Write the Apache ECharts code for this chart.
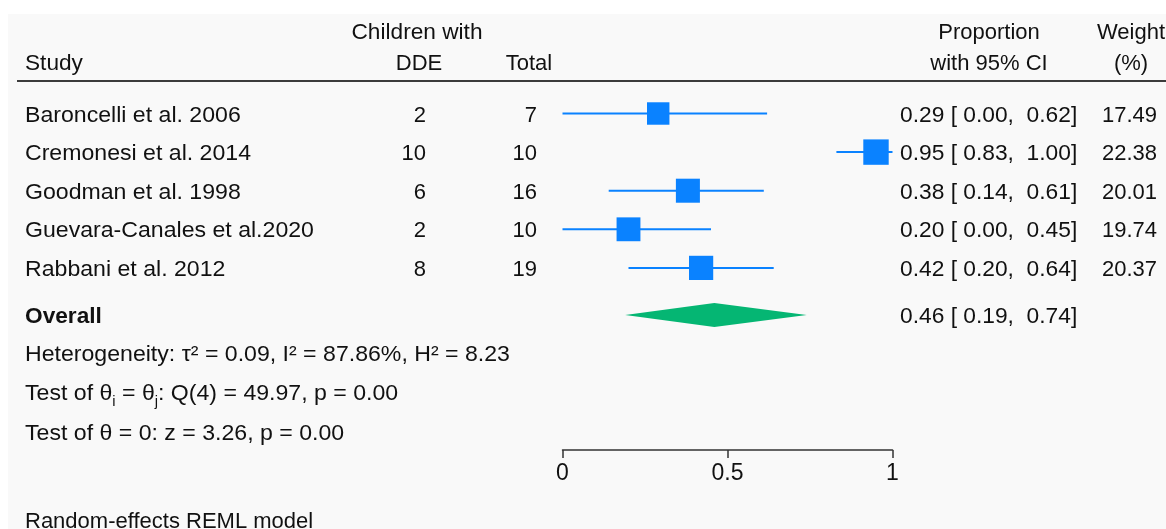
<!DOCTYPE html>
<html><head><meta charset="utf-8">
<script src="https://cdn.jsdelivr.net/npm/echarts@6/dist/echarts.min.js"></script>
<style>html,body{margin:0;padding:0;background:#fff}#c{width:1166px;height:529px}</style>
</head><body><div id="c"></div>
<script>
// ---- data ----
const studies = ['Baroncelli et al. 2006','Cremonesi et al. 2014','Goodman et al. 1998','Guevara-Canales et al.2020','Rabbani et al. 2012'];
const cases = [2, 10, 6, 2, 8];
const totals = [7, 10, 16, 10, 19];
const estimates = [0.29, 0.95, 0.38, 0.20, 0.42];
const ciLow = [0.00, 0.83, 0.14, 0.00, 0.20];
const ciHigh = [0.62, 1.00, 0.61, 0.45, 0.64];
const weights = [17.49, 22.38, 20.01, 19.74, 20.37];
const overallCI = [0.19, 0.46, 0.74];   // low, estimate, high
const axisTicks = [0, 0.5, 1];
const tickLabels = ['0', '0.5', '1'];
const headers = ['Study', 'Children with', 'DDE', 'Total', 'Proportion', 'with 95% CI', 'Weight', '(%)'];
const statLines = ['Heterogeneity: τ² = 0.09, I² = 87.86%, H² = 8.23',
  '{a|Test of θ}{s|i}{a| = θ}{s|j}{a|: Q(4) = 49.97, p = 0.00}',
  'Test of θ = 0: z = 3.26, p = 0.00'];
const modelNote = 'Random-effects REML model';

// ---- layout ----
const FONT = '"Liberation Sans", Arial, Helvetica, sans-serif';
const FS = 22;
const BLUE = '#0a82ff', GREEN = '#05b673', TXT = '#111111';
const ROW_TOP = 113.5, ROW_STEP = 38.6, OVERALL_ROW = 5.22;
const AXIS_Y = 450;
const rowY = r => ROW_TOP + r * ROW_STEP;

function fmt(v) { return v.toFixed(2); }
function ciText(e, l, h) { return fmt(e) + ' [ ' + fmt(l) + ',  ' + fmt(h) + ']'; }

function txt(text, x, y, align, sx, font) {
  return {
    type: 'text', silent: true, x: x, y: y, scaleX: sx || 1, originX: 0, originY: 0,
    style: { text: text, x: 0, y: 0, font: font || (FS + 'px ' + FONT), fill: TXT,
      align: align, verticalAlign: 'middle', textAlign: align, textVerticalAlign: 'middle' }
  };
}

const SX = 1.05;
const graphics = [
  { type: 'rect', shape: { x: 0, y: 0, width: 1166, height: 14 }, style: { fill: '#ffffff' }, silent: true },
  { type: 'rect', shape: { x: 0, y: 0, width: 8, height: 529 }, style: { fill: '#ffffff' }, silent: true },
  { type: 'line', shape: { x1: 17, y1: 81, x2: 1166, y2: 81 }, style: { stroke: '#3c3c3c', lineWidth: 2 }, silent: true },
  txt(headers[0], 25, 64, 'left', 1.03),
  txt(headers[1], 417, 32.5, 'center', 1.03),
  txt(headers[2], 419, 64, 'center'),
  txt(headers[3], 529, 64, 'center'),
  txt(headers[4], 989, 32.5, 'center'),
  txt(headers[5], 989, 64, 'center'),
  txt(headers[6], 1131, 32.5, 'center'),
  txt(headers[7], 1131, 64, 'center')
];
studies.forEach((s, i) => {
  const y = rowY(i) + 2;
  graphics.push(txt(s, 25, y, 'left', SX));
  graphics.push(txt(String(cases[i]), 426, y, 'right'));
  graphics.push(txt(String(totals[i]), 537, y, 'right'));
  graphics.push(txt(ciText(estimates[i], ciLow[i], ciHigh[i]), 900, y, 'left', 1.035));
  graphics.push(txt(fmt(weights[i]), 1157, y, 'right'));
});
const oy = rowY(OVERALL_ROW) + 2;
graphics.push(txt('Overall', 25, oy, 'left', 1.03, 'bold ' + FS + 'px ' + FONT));
graphics.push(txt(ciText(overallCI[1], overallCI[0], overallCI[2]), 900, oy, 'left', 1.035));
graphics.push(txt(statLines[0], 25, 355, 'left', SX));
const rich = txt(statLines[1], 25, 394, 'left', SX);
rich.style.rich = {
  a: { fontSize: FS, fontFamily: FONT, color: TXT, lineHeight: 30 },
  s: { fontSize: 14, fontFamily: FONT, color: TXT, lineHeight: 19, verticalAlign: 'bottom' }
};
graphics.push(rich);
graphics.push(txt(statLines[2], 25, 434, 'left', SX));
graphics.push(txt(modelNote, 25, 522, 'left'));

const chart = echarts.init(document.getElementById('c'), null, { renderer: 'canvas' });
chart.setOption({
  animation: false,
  backgroundColor: '#f9f9f9',
  grid: [{ left: 562.5, width: 330, top: ROW_TOP, height: AXIS_Y - ROW_TOP }],
  xAxis: [{ type: 'value', min: 0, max: 1, interval: 0.5,
    axisLine: { show: true, onZero: false, lineStyle: { color: '#333', width: 1.5 } },
    axisTick: { show: true, length: 8, lineStyle: { color: '#333', width: 1.5 } },
    splitLine: { show: false },
    axisLabel: { margin: 12, fontSize: 23, fontFamily: FONT, color: '#111',
      formatter: v => { const k = axisTicks.indexOf(v); return k >= 0 ? tickLabels[k] : ''; } } }],
  yAxis: [{ type: 'value', min: 0, max: (AXIS_Y - ROW_TOP) / ROW_STEP, inverse: true, show: false }],
  series: [
    { type: 'custom', clip: false,
      data: studies.map((s, i) => [ciLow[i], ciHigh[i], i]),
      encode: { x: [0, 1], y: 2 },
      renderItem: (params, api) => {
        const p1 = api.coord([api.value(0), api.value(2)]);
        const p2 = api.coord([api.value(1), api.value(2)]);
        return { type: 'line', shape: { x1: p1[0], y1: p1[1], x2: p2[0], y2: p2[1] },
          style: { stroke: BLUE, lineWidth: 2 } };
      } },
    { type: 'scatter', clip: false, z: 3,
      symbol: 'rect',
      symbolSize: (val) => 5.37 * Math.sqrt(val[2]),
      itemStyle: { color: BLUE, opacity: 1 },
      data: studies.map((s, i) => [estimates[i], i, weights[i]]) },
    { type: 'custom', clip: false,
      data: [[overallCI[0], overallCI[1], overallCI[2], OVERALL_ROW]],
      encode: { x: [0, 1, 2], y: 3 },
      renderItem: (params, api) => {
        const l = api.coord([api.value(0), api.value(3)]);
        const c = api.coord([api.value(1), api.value(3)]);
        const r = api.coord([api.value(2), api.value(3)]);
        const h = 12;
        return { type: 'polygon',
          shape: { points: [[l[0], l[1]], [c[0], c[1] - h], [r[0], r[1]], [c[0], c[1] + h]] },
          style: { fill: GREEN } };
      } }
  ],
  graphic: { elements: graphics }
});
</script></body></html>
